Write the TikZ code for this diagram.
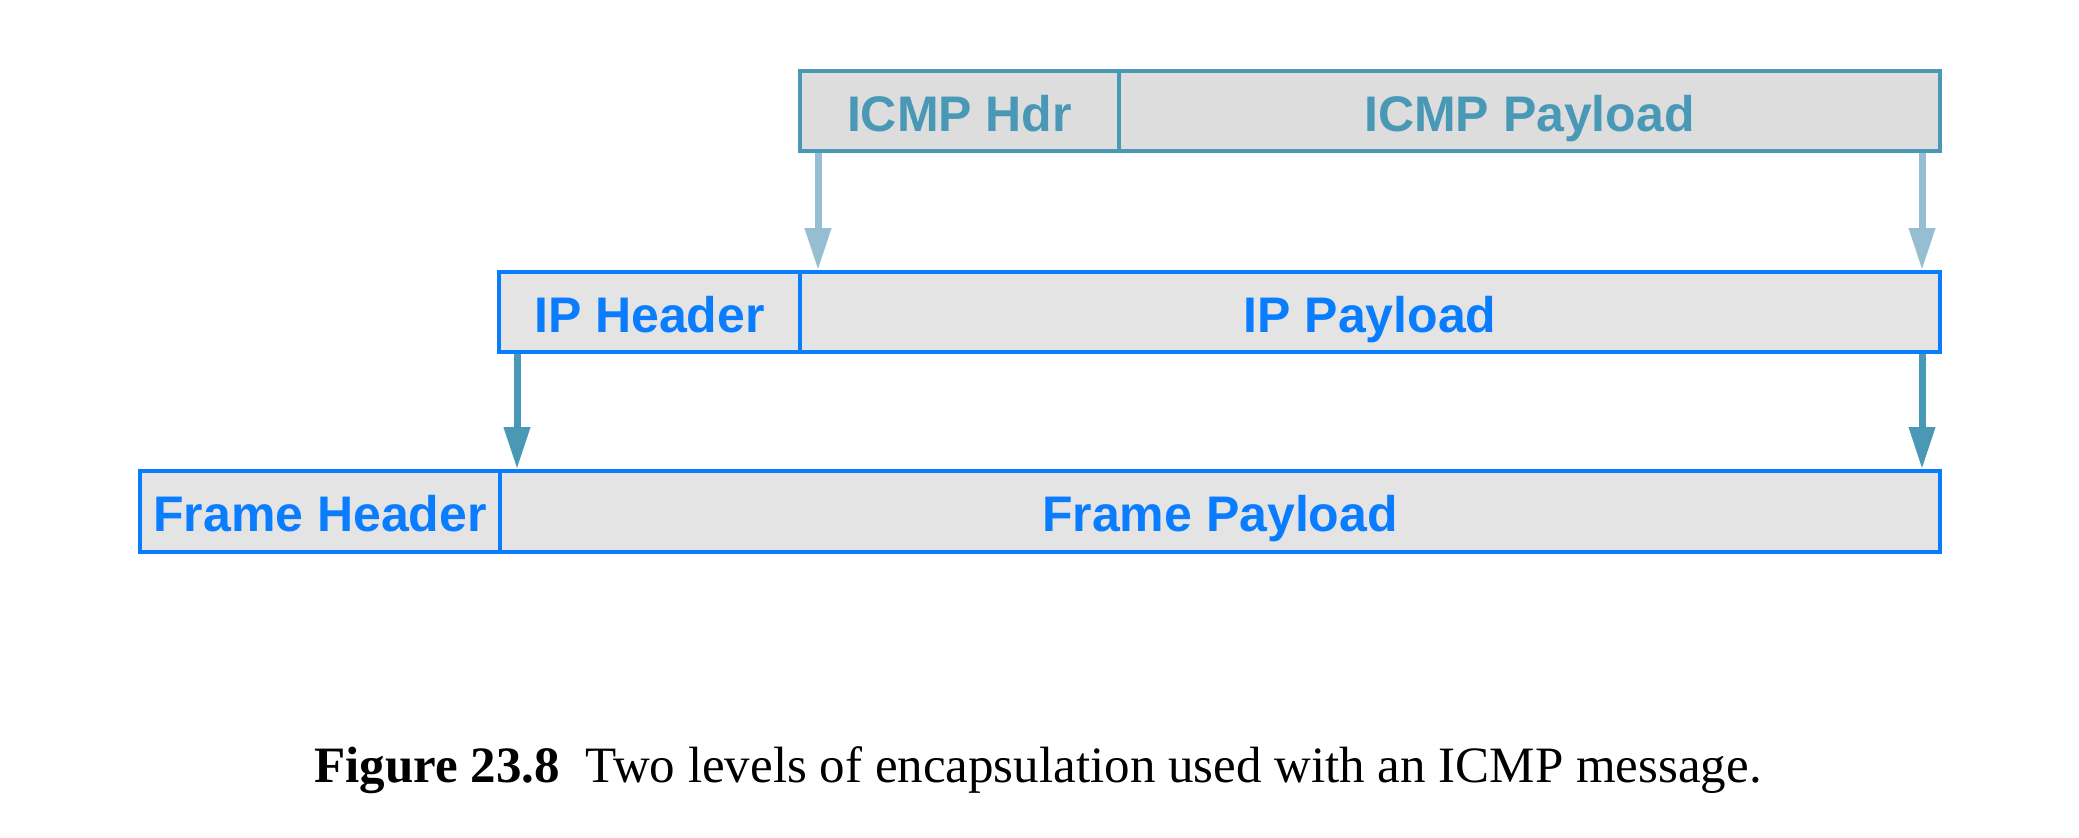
\documentclass[tikz,border=0pt]{standalone}
\usepackage{fontspec}
\setmainfont{Liberation Serif}
\newfontfamily\hv{Liberation Sans}
\usetikzlibrary{arrows.meta}
\definecolor{icmpc}{RGB}{72,152,182}
\definecolor{lightarr}{RGB}{150,190,210}
\definecolor{ipc}{RGB}{10,125,255}
\definecolor{darrc}{RGB}{72,152,182}
\definecolor{fillA}{RGB}{221,221,221}
\definecolor{fillB}{RGB}{228,228,228}
\tikzset{
  cell/.style={rectangle, inner sep=0pt, line width=2pt, minimum height=40pt,
    font=\hv\fontsize{25pt}{30pt}\selectfont\bfseries, text height=20.4pt, text depth=0pt},
  icmpcell/.style={cell, draw=icmpc, fill=fillA, text=icmpc},
  ipcell/.style={cell, draw=ipc, fill=fillB, text=ipc},
  encarrow/.style={line width=3.5pt, -{Triangle[length=21pt,width=12.5pt]}},
}
\begin{document}
\begin{tikzpicture}[x=0.5pt,y=-0.5pt]
\useasboundingbox (0,0) rectangle (2079,837);
% ICMP row
\node[icmpcell, minimum width=159.5pt] (icmph) at (959.5,111) {ICMP Hdr};
\node[icmpcell, minimum width=410.5pt] (icmpp) at (1529.5,111) {ICMP Payload};
% IP row
\node[ipcell, minimum width=150.5pt] (iph) at (649.5,312) {IP Header};
\node[ipcell, minimum width=570pt] (ipp) at (1370,312) {IP Payload};
% Frame row
\node[ipcell, minimum width=180pt, minimum height=40.5pt] (frh) at (320,511.5) {Frame Header};
\node[ipcell, minimum width=720pt, minimum height=40.5pt] (frp) at (1220,511.5) {Frame Payload};
% arrows
\draw[encarrow, lightarr] ([xshift=10pt]icmph.south west) -- ([xshift=10pt]icmph.south west |- ipp.north);
\draw[encarrow, lightarr] ([xshift=-10pt]icmpp.south east) -- ([xshift=-10pt]icmpp.south east |- ipp.north);
\draw[encarrow, darrc] ([xshift=10pt]iph.south west) -- ([xshift=10pt]iph.south west |- frp.north);
\draw[encarrow, darrc] ([xshift=-10pt]ipp.south east) -- ([xshift=-10pt]ipp.south east |- frp.north);
% caption
\node[anchor=base west, inner sep=0pt, font=\fontsize{25.5pt}{30pt}\selectfont] (cap) at (314,782)
  {\textbf{Figure 23.8}\ \ Two levels of encapsulation used with an ICMP message.};
\end{tikzpicture}
\end{document}
